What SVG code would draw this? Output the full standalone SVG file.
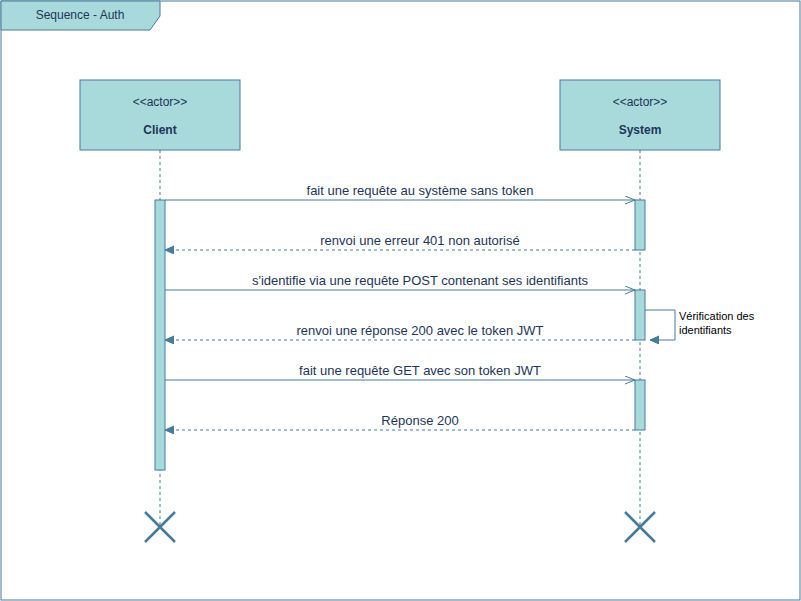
<svg xmlns="http://www.w3.org/2000/svg" width="801" height="601" viewBox="0 0 801 601">
<style>
.box{fill:#A8DADC;stroke:#457B9D;stroke-width:1}
.t{font-family:"Liberation Sans",Arial,Helvetica,sans-serif;font-size:12px;fill:#1D3557;text-anchor:middle}
.m{font-size:13px}
.b{font-weight:bold}
.life{stroke:#457B9D;stroke-width:1;stroke-dasharray:3 3;fill:none}
.msg{stroke:#457B9D;stroke-width:1;fill:none}
.ret{stroke:#457B9D;stroke-width:1;fill:none;stroke-dasharray:3 3}
.x{stroke:#457B9D;stroke-width:2.5;fill:none}
.note{font-family:"Liberation Sans",Arial,Helvetica,sans-serif;font-size:11px;fill:#000}
</style>
<defs>
<marker id="open" markerWidth="12" markerHeight="10" refX="10" refY="4" orient="auto" markerUnits="userSpaceOnUse">
<path d="M0,0 L10,4 L0,8" fill="none" stroke="#457B9D" stroke-width="1"/>
</marker>
<marker id="fill" markerWidth="12" markerHeight="10" refX="9" refY="4" orient="auto" markerUnits="userSpaceOnUse">
<path d="M0,0 L9,4 L0,8 Z" fill="#457B9D" stroke="#457B9D" stroke-width="1"/>
</marker>
</defs>
<rect width="801" height="601" fill="#fff"/>
<g id="frame">
<rect x="1" y="1" width="799" height="599" fill="none" stroke="#457B9D"/>
<path d="M1,1 H160 V16 L150,30 H1 Z" class="box"/>
<text x="80" y="19" class="t">Sequence - Auth</text>
</g>
<g id="lifelines">
<line x1="160" y1="150" x2="160" y2="527" class="life"/>
<line x1="640" y1="150" x2="640" y2="527" class="life"/>
</g>
<g id="client">
<rect x="80" y="80" width="160" height="70" class="box"/>
<text x="160" y="106" class="t">&lt;&lt;actor&gt;&gt;</text>
<text x="160" y="134" class="t b">Client</text>
</g>
<g id="system">
<rect x="560" y="80" width="160" height="70" class="box"/>
<text x="640" y="106" class="t">&lt;&lt;actor&gt;&gt;</text>
<text x="640" y="134" class="t b">System</text>
</g>
<g id="client-activation">
<rect x="155" y="200" width="10" height="270" class="box"/>
</g>
<g id="system-activation-1"><rect x="635" y="200" width="10" height="50" class="box"/></g>
<g id="system-activation-2"><rect x="635" y="290" width="10" height="50" class="box"/></g>
<g id="system-activation-3"><rect x="635" y="380" width="10" height="50" class="box"/></g>
<g id="client-destroy"><path d="M145,512 L175,542 M175,512 L145,542" class="x"/></g>
<g id="system-destroy"><path d="M625,512 L655,542 M655,512 L625,542" class="x"/></g>
<g id="connectors">
<line x1="165" y1="200" x2="635" y2="200" class="msg" marker-end="url(#open)"/>
<text x="420" y="195" class="t m">fait une requête au système sans token</text>
<line x1="635" y1="250" x2="165" y2="250" class="ret" marker-end="url(#fill)"/>
<text x="420" y="245" class="t m">renvoi une erreur 401 non autorisé</text>
<line x1="165" y1="290" x2="635" y2="290" class="msg" marker-end="url(#open)"/>
<text x="420" y="285" class="t m">s'identifie via une requête POST contenant ses identifiants</text>
<path d="M645,310 H675 V340 H650" class="msg" marker-end="url(#fill)"/>
<text x="679" y="320" class="note">Vérification des</text>
<text x="679" y="334" class="note">identifiants</text>
<line x1="635" y1="340" x2="165" y2="340" class="ret" marker-end="url(#fill)"/>
<text x="420" y="335" class="t m">renvoi une réponse 200 avec le token JWT</text>
<line x1="165" y1="380" x2="635" y2="380" class="msg" marker-end="url(#open)"/>
<text x="420" y="375" class="t m">fait une requête GET avec son token JWT</text>
<line x1="635" y1="430" x2="165" y2="430" class="ret" marker-end="url(#fill)"/>
<text x="420" y="425" class="t m">Réponse 200</text>
</g>
</svg>
